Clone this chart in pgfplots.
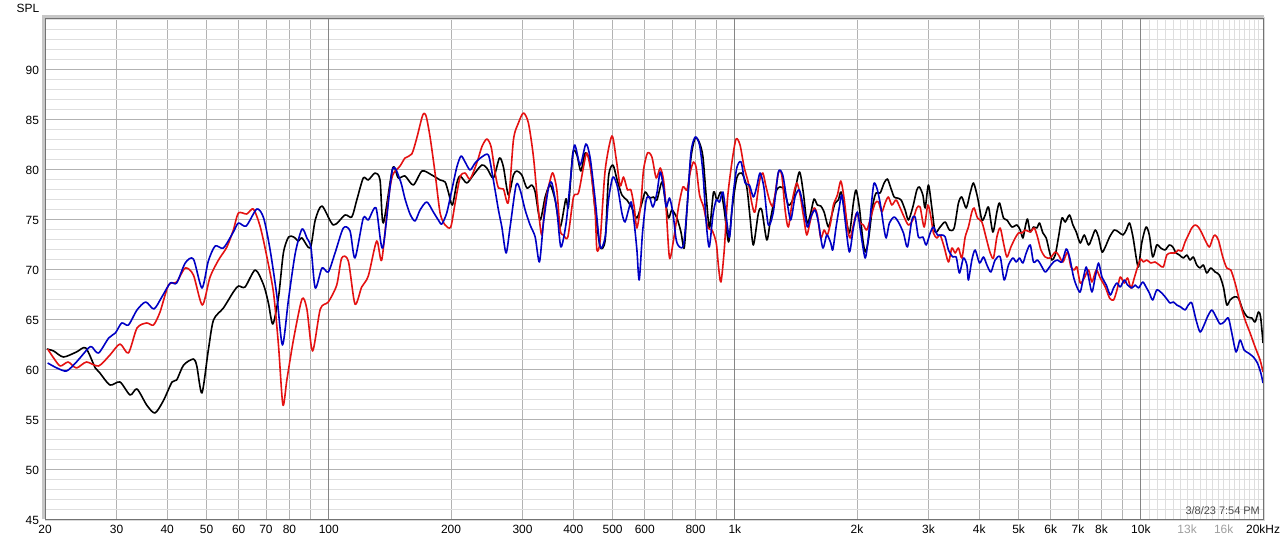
\documentclass[border=0pt]{standalone}
\usepackage{fontspec}
\setmainfont{Liberation Sans}
\usepackage{pgfplots}
\pgfplotsset{compat=1.18}
\definecolor{rewred}{RGB}{228,18,18}
\definecolor{rewblue}{RGB}{0,0,196}
\begin{document}
\begin{tikzpicture}
\path[use as bounding box] (-45bp,-26bp) rectangle (1241bp,519bp);
\begin{axis}[
  name=ax, at={(0,0)}, anchor=south west,
  scale only axis, width=1218bp, height=501bp,
  xmode=log, xmin=20, xmax=20000, ymin=45, ymax=95.1,
  axis line style={draw=black!50, line width=0.8bp},
  major tick length=0pt, minor tick length=0pt,
  xtick={20,30,40,50,60,70,80,90,100,200,300,400,500,600,700,800,900,1000,2000,3000,4000,5000,6000,7000,8000,9000,10000,20000},
  xticklabels={20,30,40,50,60,70,80,,100,200,300,400,500,600,,800,,1k,2k,3k,4k,5k,6k,7k,8k,,10k,20kHz},
  minor xtick={10500,11000,11500,12000,12500,13000,13500,14000,14500,15000,15500,16000,16500,17000,17500,18000,18500,19000,19500},
  extra x ticks={13000,16000},
  extra x tick labels={13k,16k},
  extra x tick style={grid=none, xticklabel style={text=black!38}},
  ytick={45,50,55,60,65,70,75,80,85,90},
  minor ytick={46,47,48,49,51,52,53,54,56,57,58,59,61,62,63,64,66,67,68,69,71,72,73,74,76,77,78,79,81,82,83,84,86,87,88,89,91,92,93,94,95},
  grid=both,
  major grid style={draw=black!30, line width=0.8bp},
  minor grid style={draw=black!13, line width=0.8bp},
  /pgf/number format/assume math mode=true,
  tick label style={font=\fontsize{12}{14}\selectfont, text=black},
  xticklabel style={yshift=-2.5bp},
  yticklabel style={xshift=-2.5bp, yshift=-1bp},
  every axis plot/.append style={line width=1.6bp, line join=round, smooth, tension=0.45},
]
\draw[black!48, line width=0.9bp] (axis cs:100,45) -- (axis cs:100,95.1);
\draw[black!48, line width=0.9bp] (axis cs:1000,45) -- (axis cs:1000,95.1);
\draw[black!48, line width=0.9bp] (axis cs:10000,45) -- (axis cs:10000,95.1);

% black
\addplot[black] coordinates {(20.2,62.0) (21.0,61.8) (22.2,61.2) (23.9,61.7) (25.2,62.1) (26.6,60.1) (27.3,59.6) (28.9,58.4) (30.6,58.7) (32.4,57.4) (33.7,58.0) (35.6,56.4) (37.3,55.6) (39.1,56.8) (41.1,58.7) (42.2,58.9) (43.9,60.4) (46.4,61.0) (47.3,60.3) (48.7,57.6) (50.5,61.9) (52.0,64.9) (55.0,66.1) (58.2,67.7) (59.9,68.3) (62.2,68.2) (65.9,69.9) (69.1,68.4) (71.0,66.6) (72.8,64.5) (75.2,67.2) (77.3,71.6) (79.6,73.2) (81.9,73.2) (84.2,72.8) (85.9,73.1) (90.0,72.1) (92.6,74.9) (96.2,76.3) (102.6,74.4) (109.6,75.4) (113.9,75.2) (117.2,76.9) (121.6,79.1) (125.1,78.9) (130.0,79.6) (133.7,78.9) (136.2,74.6) (143.7,80.1) (148.3,79.1) (154.1,79.3) (161.5,78.4) (169.7,79.8) (179.3,79.4) (188.0,78.9) (193.4,78.7) (197.0,77.7) (201.5,76.4) (206.7,78.6) (210.6,79.3) (218.7,78.6) (227.0,79.4) (238.1,80.4) (245.0,80.1) (254.3,79.1) (263.2,81.1) (269.2,80.2) (276.9,77.4) (284.9,79.4) (290.5,79.8) (298.8,79.4) (307.4,78.1) (316.3,78.4) (322.3,77.7) (331.5,74.9) (341.1,77.2) (350.9,78.4) (361.0,76.9) (371.4,74.2) (383.6,77.0) (389.3,76.2) (399.1,81.6) (408.3,81.4) (417.7,79.8) (428.0,81.6) (440.3,80.6) (453.0,75.9) (466.0,72.2) (479.4,72.9) (488.5,79.2) (500.8,80.4) (512.3,79.0) (527.1,77.4) (542.2,76.9) (557.9,76.1) (573.9,75.1) (590.4,76.6) (601.6,77.7) (616.4,77.1) (630.6,77.2) (642.9,76.9) (661.4,78.7) (673.9,76.9) (686.6,75.1) (700.0,75.9) (720.2,75.1) (736.7,73.7) (750.6,72.1) (762.2,75.9) (779.7,81.1) (799.0,83.1) (818.7,82.6) (834.6,81.2) (850.4,77.2) (866.4,74.1) (886.3,77.7) (903.7,76.9) (924.4,77.7) (941.8,75.9) (965.1,72.7) (983.9,75.9) (1011,79.1) (1040,79.6) (1070,78.2) (1090,75.2) (1111,72.4) (1143,75.6) (1165,75.9) (1199,72.9) (1226,75.1) (1268,77.9) (1317,78.1) (1355,76.4) (1394,77.1) (1442,79.7) (1475,77.6) (1506,74.6) (1538,75.6) (1567,77.0) (1597,76.4) (1628,76.3) (1659,75.7) (1700,74.2) (1733,75.4) (1766,76.6) (1799,76.9) (1827,77.7) (1869,75.7) (1915,73.6) (1959,76.6) (1989,77.9) (2027,76.1) (2067,72.9) (2097,71.7) (2133,72.9) (2187,76.4) (2228,77.6) (2280,77.6) (2332,78.6) (2376,79.0) (2422,78.1) (2468,77.2) (2511,77.1) (2568,76.9) (2627,75.9) (2677,74.9) (2744,76.2) (2807,77.9) (2849,78.2) (2905,77.4) (2943,76.1) (2998,78.4) (3057,76.1) (3115,73.7) (3204,74.2) (3297,74.7) (3378,73.9) (3469,74.1) (3555,76.6) (3624,77.2) (3714,76.1) (3799,77.6) (3871,78.6) (3960,77.2) (4060,74.9) (4137,75.4) (4215,76.2) (4321,73.7) (4420,75.7) (4486,76.6) (4589,75.1) (4679,74.9) (4813,74.2) (4952,74.4) (5045,73.9) (5123,73.1) (5191,74.2) (5259,75.0) (5340,73.7) (5441,74.2) (5547,74.1) (5629,74.6) (5739,73.6) (5847,73.1) (5958,71.7) (6040,70.9) (6154,71.4) (6270,73.2) (6393,75.1) (6513,74.7) (6674,75.4) (6804,74.4) (6933,73.7) (7092,72.6) (7255,73.4) (7434,72.4) (7579,73.1) (7722,73.9) (7868,73.2) (8021,71.7) (8173,72.2) (8375,73.2) (8601,73.9) (8813,73.7) (9037,73.4) (9207,73.9) (9381,74.6) (9564,73.2) (9744,71.1) (9872,70.2) (10051,72.6) (10299,74.2) (10493,73.4) (10698,71.2) (10944,72.4) (11195,72.1) (11472,71.9) (11755,72.4) (11985,72.2) (12210,71.6) (12441,71.4) (12727,71.1) (12975,71.4) (13220,70.9) (13470,71.2) (13733,70.4) (13992,70.1) (14257,70.4) (14534,69.6) (14868,70.1) (15237,69.7) (15612,69.4) (15971,68.2) (16281,66.4) (16589,66.9) (16970,67.2) (17389,67.1) (17829,65.9) (18301,65.2) (18763,65.1) (19119,64.7) (19479,65.7) (19726,65.2) (20000,62.6)};

% red
\addplot[rewred] coordinates {(20.3,62.0) (21.0,61.1) (21.8,60.3) (22.8,60.7) (23.9,60.1) (25.3,60.7) (27.1,60.3) (28.9,61.4) (30.6,62.5) (32.1,61.6) (33.7,64.1) (35.6,64.6) (37.0,64.4) (38.4,65.7) (40.3,68.4) (42.2,68.7) (44.3,70.1) (46.4,69.4) (48.8,66.4) (51.0,69.2) (53.5,70.9) (56.1,72.2) (58.2,73.9) (59.9,75.6) (62.8,75.5) (65.2,76.0) (67.8,74.2) (70.4,71.2) (73.1,67.6) (75.2,62.3) (77.1,56.4) (78.9,59.0) (81.9,63.0) (85.9,67.0) (88.3,66.0) (91.2,61.8) (95.3,66.0) (99.7,66.7) (104.6,68.4) (107.6,71.1) (111.7,70.8) (116.0,66.5) (120.5,68.2) (125.1,69.3) (131.2,72.8) (135.0,70.9) (140.2,77.0) (143.7,79.4) (149.8,80.3) (154.1,81.1) (160.1,81.5) (164.7,83.1) (170.4,85.4) (173.6,85.3) (177.6,83.2) (182.7,79.6) (188.0,75.6) (193.4,74.4) (199.7,74.2) (204.7,76.6) (210.6,79.2) (216.6,79.6) (222.8,79.0) (231.5,80.6) (238.1,82.2) (245.0,83.0) (251.1,82.2) (256.8,79.6) (261.7,78.1) (269.2,78.0) (276.9,76.7) (284.9,82.9) (293.1,84.6) (301.6,85.6) (310.2,84.6) (319.2,81.2) (328.3,75.9) (334.7,73.4) (341.1,76.6) (350.9,78.9) (356.5,79.6) (364.5,77.9) (371.4,73.9) (378.4,73.4) (388.0,73.2) (400.5,77.2) (412.0,77.6) (423.9,80.2) (432.1,81.6) (442.8,79.6) (453.0,75.6) (457.4,71.9) (466.0,72.9) (479.4,79.9) (498.0,83.3) (510.3,81.0) (522.0,78.3) (531.9,79.2) (544.1,77.9) (554.7,77.9) (565.2,76.2) (573.9,74.1) (587.1,76.6) (595.8,79.9) (609.5,81.6) (624.9,81.2) (640.3,79.1) (655.0,80.1) (667.4,78.9) (677.7,75.9) (690.5,71.1) (706.4,72.9) (726.7,76.2) (745.1,78.2) (762.2,77.9) (776.6,79.7) (791.2,80.7) (803.5,80.1) (818.7,77.4) (837.5,76.2) (858.7,74.1) (878.4,73.9) (900.0,72.6) (911.8,70.2) (924.4,68.7) (941.8,71.9) (959.7,77.1) (983.9,80.7) (1007,83.0) (1030,82.4) (1054,80.2) (1080,78.6) (1101,76.6) (1121,75.7) (1149,78.7) (1172,79.6) (1194,78.2) (1221,76.7) (1244,76.4) (1280,79.6) (1305,79.4) (1330,75.9) (1355,74.2) (1389,77.1) (1421,78.6) (1448,77.4) (1477,75.2) (1504,73.4) (1532,74.7) (1567,76.1) (1597,75.4) (1628,73.1) (1659,73.9) (1690,73.4) (1723,74.7) (1749,76.4) (1789,77.4) (1824,78.8) (1858,77.1) (1893,74.2) (1923,73.1) (1967,74.7) (1997,75.6) (2035,74.6) (2073,74.4) (2114,73.9) (2163,75.2) (2216,76.6) (2258,76.7) (2302,75.7) (2345,76.6) (2389,77.2) (2436,76.4) (2496,76.9) (2554,76.1) (2612,75.2) (2677,74.4) (2744,74.9) (2807,76.1) (2860,76.2) (2926,74.2) (2988,76.4) (3040,75.2) (3085,73.6) (3145,73.1) (3204,73.4) (3278,72.2) (3359,70.7) (3424,72.1) (3489,71.6) (3555,72.1) (3624,71.1) (3693,73.2) (3762,74.2) (3836,75.7) (3886,76.1) (3960,75.1) (4060,74.7) (4160,73.1) (4256,71.6) (4336,71.1) (4420,73.2) (4504,74.1) (4589,72.6) (4679,71.2) (4786,72.2) (4904,73.1) (4997,73.6) (5094,73.6) (5191,73.9) (5340,73.7) (5463,74.1) (5566,73.2) (5674,71.9) (5815,71.2) (5982,71.1) (6154,71.7) (6270,71.4) (6429,70.7) (6599,71.7) (6728,70.2) (6854,69.9) (6960,70.2) (7092,68.6) (7255,69.1) (7434,69.9) (7579,68.7) (7766,69.9) (7944,69.1) (8173,68.2) (8375,67.1) (8567,66.9) (8734,67.9) (8899,69.2) (9103,68.6) (9275,69.1) (9456,68.1) (9635,69.1) (9817,70.2) (9994,71.0) (10143,70.7) (10339,70.9) (10577,70.6) (10839,70.7) (11107,70.4) (11361,70.2) (11583,71.4) (11849,71.6) (12142,71.6) (12370,71.9) (12612,71.8) (12850,72.7) (13093,73.4) (13349,74.1) (13601,74.4) (13858,74.2) (14128,73.6) (14395,72.9) (14750,72.2) (15038,73.1) (15237,73.4) (15523,72.9) (15916,71.2) (16281,70.1) (16655,69.9) (17067,68.6) (17558,66.6) (18063,64.9) (18583,63.6) (19119,62.2) (19668,60.9) (20000,59.7)};

% blue
\addplot[rewblue] coordinates {(20.3,60.6) (21.4,60.1) (22.6,59.8) (23.9,60.7) (25.6,62.1) (26.1,62.2) (27.1,61.6) (28.7,63.1) (29.8,63.6) (30.9,64.6) (32.1,64.4) (33.7,65.9) (35.4,66.7) (37.1,66.0) (38.8,67.2) (40.7,68.6) (42.2,68.6) (44.3,70.6) (46.4,71.0) (48.7,68.1) (50.5,70.8) (52.5,72.3) (55.0,72.1) (58.2,73.7) (59.9,74.6) (62.6,74.3) (66.5,76.0) (69.1,75.1) (71.7,71.9) (74.5,67.3) (76.9,62.4) (79.6,67.0) (82.7,71.6) (85.9,74.0) (88.3,73.1) (90.4,72.1) (92.6,68.1) (96.2,70.1) (99.7,69.7) (103.6,71.6) (108.6,74.1) (112.8,73.8) (116.0,71.1) (121.6,75.1) (125.1,74.9) (130.7,76.1) (135.8,72.1) (143.4,79.9) (149.8,78.9) (154.1,77.0) (158.5,75.5) (163.1,74.8) (167.8,75.9) (174.3,76.7) (180.9,75.7) (186.1,74.9) (189.8,74.5) (195.2,75.6) (200.9,77.9) (206.7,80.2) (211.7,81.3) (216.6,80.7) (222.8,79.9) (229.3,80.6) (238.1,81.2) (247.2,81.4) (253.5,79.2) (261.7,75.9) (266.8,74.2) (273.3,71.6) (279.6,74.2) (289.3,78.4) (296.0,77.9) (304.5,75.9) (313.2,74.4) (322.3,73.2) (330.2,70.7) (337.8,74.6) (347.5,78.1) (354.3,78.6) (364.5,75.9) (372.9,72.2) (384.2,74.6) (393.0,78.6) (402.8,82.4) (416.0,80.4) (429.7,82.5) (440.3,81.1) (453.0,76.9) (466.0,72.2) (479.4,73.2) (488.5,76.9) (500.8,79.2) (514.1,78.2) (527.1,75.6) (536.4,74.7) (547.2,75.9) (555.7,76.7) (565.2,74.6) (573.9,71.9) (581.5,68.9) (592.4,73.6) (605.0,76.9) (616.4,77.2) (628.5,76.2) (642.9,77.6) (655.0,79.7) (667.4,78.2) (677.7,76.2) (690.5,77.1) (704.0,75.6) (717.3,72.9) (730.9,72.2) (747.6,72.4) (762.2,75.9) (779.7,81.6) (799.0,83.2) (818.7,82.4) (834.6,79.6) (850.4,74.6) (865.0,72.2) (883.4,75.4) (900.0,76.9) (917.1,76.7) (934.9,77.7) (952.6,75.2) (970.6,73.2) (989.5,77.2) (1011,80.1) (1036,80.7) (1060,78.6) (1086,78.4) (1111,77.2) (1132,78.2) (1154,79.6) (1180,78.1) (1209,74.4) (1244,75.7) (1280,79.7) (1312,79.4) (1343,76.9) (1373,74.9) (1407,77.2) (1442,77.9) (1475,76.2) (1509,74.2) (1538,75.2) (1576,75.9) (1606,74.7) (1647,72.1) (1685,73.4) (1723,72.6) (1743,71.9) (1776,74.2) (1809,76.2) (1834,77.4) (1869,74.9) (1915,71.7) (1959,74.1) (2004,75.7) (2043,73.6) (2094,71.1) (2133,73.2) (2175,76.9) (2203,78.6) (2245,77.9) (2289,76.2) (2323,74.4) (2359,73.1) (2403,74.6) (2468,75.2) (2529,74.7) (2602,73.6) (2662,72.2) (2729,74.9) (2780,75.2) (2833,73.2) (2905,73.2) (2960,72.4) (3028,73.6) (3085,74.2) (3156,73.4) (3235,73.4) (3297,73.2) (3359,71.9) (3444,71.2) (3509,71.2) (3575,69.6) (3657,71.1) (3729,70.4) (3762,68.9) (3836,70.9) (3908,71.9) (4005,70.6) (4097,71.2) (4177,70.4) (4273,69.7) (4376,70.9) (4504,71.2) (4607,68.9) (4721,70.4) (4840,71.1) (4932,70.7) (5025,71.1) (5123,70.6) (5220,71.6) (5340,72.4) (5441,70.7) (5566,70.9) (5674,70.4) (5815,69.7) (5958,70.2) (6095,70.7) (6235,70.9) (6393,70.7) (6550,72.0) (6674,71.2) (6828,69.2) (6960,68.2) (7092,67.7) (7226,69.2) (7337,70.2) (7434,69.2) (7579,67.7) (7722,69.2) (7868,70.6) (8021,69.2) (8219,68.4) (8408,67.4) (8567,68.1) (8734,68.6) (8899,68.2) (9103,68.9) (9275,68.4) (9510,68.1) (9690,68.4) (9872,68.1) (10108,68.7) (10299,68.2) (10493,67.6) (10698,66.9) (10944,67.9) (11258,67.6) (11537,67.1) (11802,66.6) (12025,66.7) (12260,66.4) (12541,66.2) (12850,65.9) (13093,66.4) (13349,66.6) (13678,64.9) (13992,63.7) (14313,64.4) (14585,65.2) (14953,65.9) (15322,65.2) (15674,64.5) (16034,64.7) (16429,65.1) (16750,63.6) (17163,61.7) (17558,62.9) (17961,61.9) (18404,61.6) (18934,61.2) (19369,60.6) (19750,59.6) (20000,58.6)};
\end{axis}
% frame: light outer band left/top, thin band right/bottom
\draw[black!22, line width=3bp] ([xshift=-1.9bp,yshift=-0.5bp]ax.south west) -- ([xshift=-1.9bp,yshift=1.9bp]ax.north west) -- ([xshift=0.5bp,yshift=1.9bp]ax.north east);
\draw[black!15, line width=1.2bp] ([xshift=1bp,yshift=1bp]ax.north east) -- ([xshift=1bp,yshift=-1bp]ax.south east) -- ([xshift=-0.4bp,yshift=-1bp]ax.south west);
\draw[black!55, line width=0.9bp] (ax.south west) rectangle (ax.north east);
\node[font=\fontsize{12}{14}\selectfont, anchor=center] at ([xshift=-17bp,yshift=9.5bp]ax.north west) {SPL};
\node[font=\fontsize{11}{13}\selectfont, text=black!70, anchor=south east, inner sep=0pt] at ([xshift=-3bp,yshift=4bp]ax.south east) {3/8/23 7:54 PM};
\end{tikzpicture}
\end{document}
